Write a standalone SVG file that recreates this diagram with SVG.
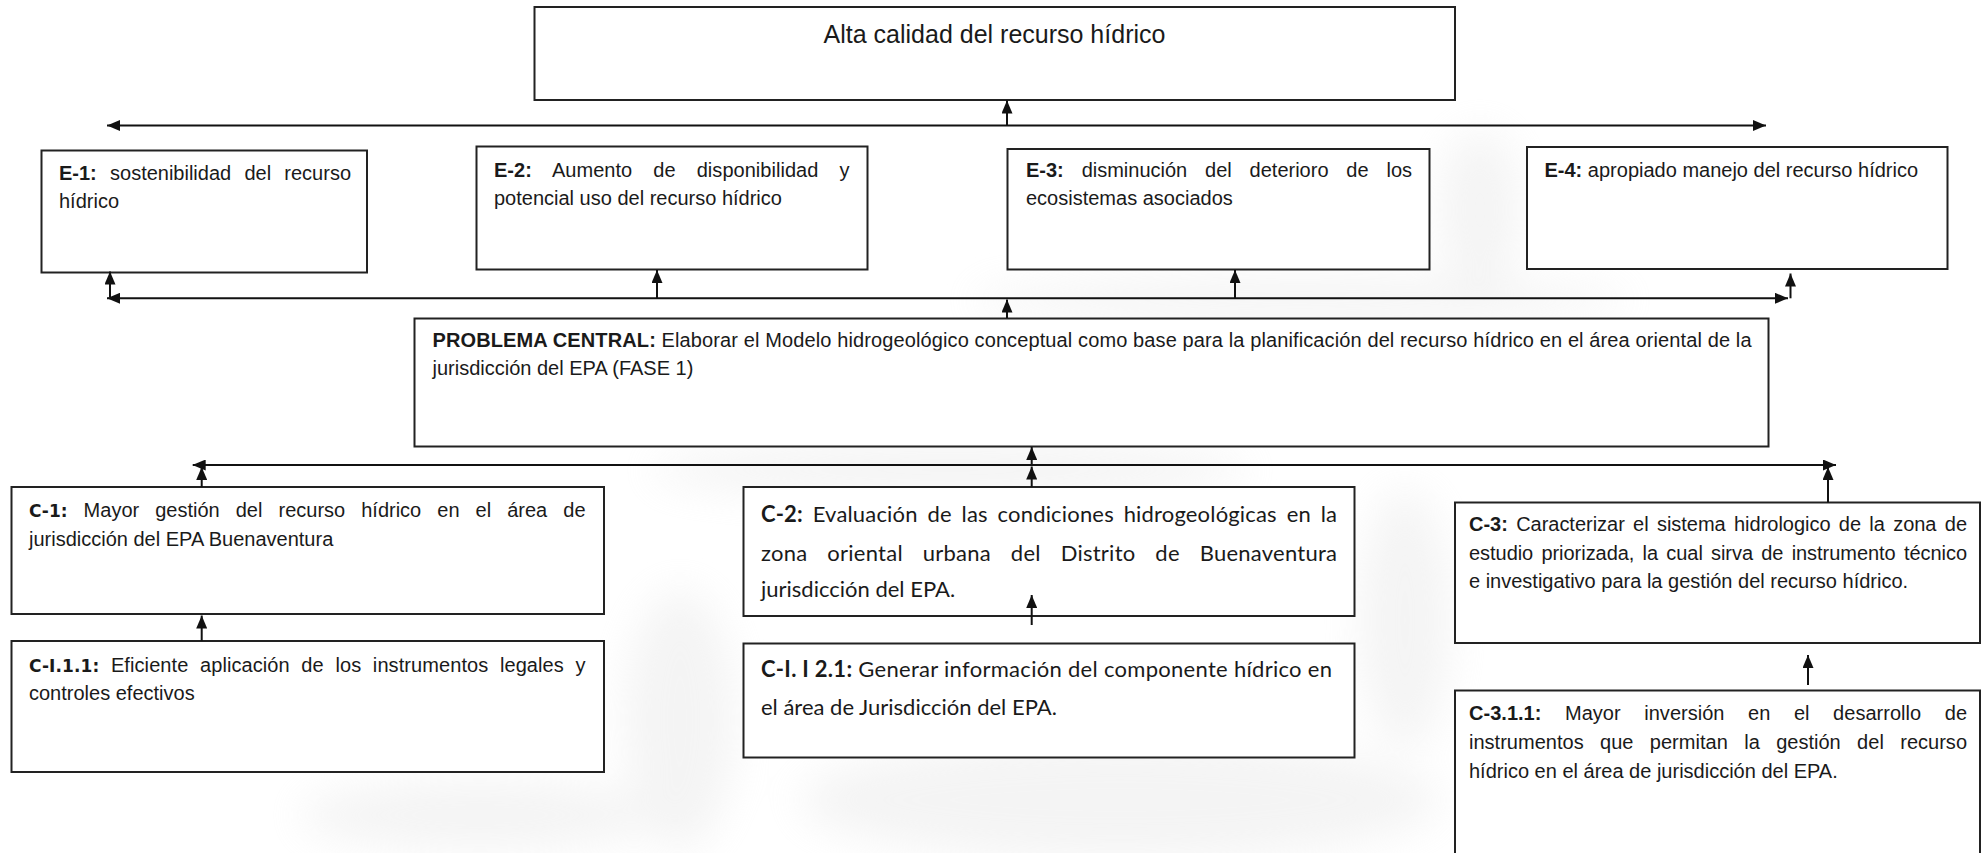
<svg xmlns="http://www.w3.org/2000/svg" width="1982" height="853" viewBox="0 0 1982 853">
<style>
.box{fill:#fff;stroke:#222;stroke-width:2}
.t{font-family:"Liberation Sans",Arial,sans-serif;font-size:20px;fill:#1a1a1a}
.b{font-weight:bold}
.cal{font-family:Lato,"Liberation Sans",sans-serif;font-size:22px;fill:#1a1a1a}
.tah{font-family:"DejaVu Sans",sans-serif;font-weight:bold;font-size:17px}
.conn path{stroke:#111;stroke-width:2;fill:none}
.m1{marker-end:url(#ah)}
.m2{marker-start:url(#ahs);marker-end:url(#ah)}
.wm ellipse{fill:#e4e4e4}
</style>
<defs>
<marker id="ah" markerUnits="userSpaceOnUse" markerWidth="13" markerHeight="11" refX="13" refY="5.5" orient="auto">
<path d="M0,0 L13,5.5 L0,11 z" fill="#111"/>
</marker>
<marker id="ahs" markerUnits="userSpaceOnUse" markerWidth="13" markerHeight="11" refX="13" refY="5.5" orient="auto-start-reverse">
<path d="M0,0 L13,5.5 L0,11 z" fill="#111"/>
</marker>
<filter id="blur" x="-50%" y="-50%" width="200%" height="200%">
<feGaussianBlur stdDeviation="20"/>
</filter>
</defs>
<rect width="1982" height="853" fill="#fff"/>

<g id="watermark" class="wm" filter="url(#blur)" opacity="0.4">
<ellipse cx="950" cy="470" rx="300" ry="28"/>
<ellipse cx="1300" cy="300" rx="330" ry="22"/>
<ellipse cx="1480" cy="210" rx="40" ry="80"/>
<ellipse cx="1120" cy="800" rx="320" ry="60"/>
<ellipse cx="680" cy="720" rx="55" ry="130"/>
<ellipse cx="1405" cy="620" rx="45" ry="130"/>
<ellipse cx="480" cy="815" rx="180" ry="35"/>
</g>

<g id="top">
<rect class="box" x="534.5" y="7" width="920.5" height="93"/>
<text class="t" x="994.5" y="43" style="font-size:25px" text-anchor="middle">Alta calidad del recurso hídrico</text>
</g>

<g id="e1">
<rect class="box" x="41.5" y="150.5" width="325.5" height="122"/>
<text class="t" x="59" y="180" textLength="292" lengthAdjust="spacing" style="word-spacing:7.7px"><tspan class="b">E-1:</tspan> sostenibilidad del recurso</text>
<text class="t" x="59" y="208">hídrico</text>
</g>

<g id="e2">
<rect class="box" x="476.5" y="146.5" width="391" height="123"/>
<text class="t" x="494" y="176.7" textLength="355.5" lengthAdjust="spacing" style="word-spacing:15.5px"><tspan class="b">E-2:</tspan> Aumento de disponibilidad y</text>
<text class="t" x="494" y="205">potencial uso del recurso hídrico</text>
</g>

<g id="e3">
<rect class="box" x="1007.5" y="149" width="422" height="120.5"/>
<text class="t" x="1026" y="176.7" textLength="386" lengthAdjust="spacing" style="word-spacing:12.3px"><tspan class="b">E-3:</tspan> disminución del deterioro de los</text>
<text class="t" x="1026" y="205">ecosistemas asociados</text>
</g>

<g id="e4">
<rect class="box" x="1527" y="147" width="420.5" height="122"/>
<text class="t" x="1544.5" y="176.7"><tspan class="b">E-4:</tspan> apropiado manejo del recurso hídrico</text>
</g>

<g id="problema">
<rect class="box" x="414.5" y="318.5" width="1354" height="128"/>
<text class="t" x="432.5" y="346.8" textLength="1319" lengthAdjust="spacing"><tspan class="b">PROBLEMA CENTRAL:</tspan> Elaborar el Modelo hidrogeológico conceptual como base para la planificación del recurso hídrico en el área oriental de la</text>
<text class="t" x="432.5" y="375.2">jurisdicción del EPA (FASE 1)</text>
</g>

<g id="c1">
<rect class="box" x="11.5" y="487" width="592.5" height="127"/>
<text class="t" x="29" y="516.7" textLength="556.5" lengthAdjust="spacing" style="word-spacing:10.5px"><tspan class="tah">C-1:</tspan> Mayor gestión del recurso hídrico en el área de</text>
<text class="t" x="29" y="545.5">jurisdicción del EPA Buenaventura</text>
</g>

<g id="ci11">
<rect class="box" x="11.5" y="641" width="592.5" height="131"/>
<text class="t" x="29" y="671.7" textLength="556.5" lengthAdjust="spacing" style="word-spacing:6px"><tspan class="tah">C-I.1.1:</tspan> Eficiente aplicación de los instrumentos legales y</text>
<text class="t" x="29" y="700">controles efectivos</text>
</g>

<g id="c2">
<rect class="box" x="743.5" y="487" width="611" height="129"/>
<text class="cal" x="761" y="522.3" textLength="576" lengthAdjust="spacing" style="word-spacing:4px"><tspan class="b">C-2:</tspan> Evaluación de las condiciones hidrogeológicas en la</text>
<text class="cal" x="761" y="561" textLength="576" lengthAdjust="spacing" style="word-spacing:14px">zona oriental urbana del Distrito de Buenaventura</text>
<text class="cal" x="761" y="597.3">jurisdicción del EPA.</text>
</g>

<g id="ci121">
<rect class="box" x="743.5" y="643.5" width="611" height="114"/>
<text class="cal" x="761" y="676.7" textLength="571" lengthAdjust="spacing"><tspan class="b">C-I. I 2.1:</tspan> Generar información del componente hídrico en</text>
<text class="cal" x="761" y="715">el área de Jurisdicción del EPA.</text>
</g>

<g id="c3">
<rect class="box" x="1455" y="502.5" width="525" height="140.5"/>
<text class="t" x="1469" y="531" textLength="498" lengthAdjust="spacing" style="word-spacing:2.8px"><tspan class="b">C-3:</tspan> Caracterizar el sistema hidrologico de la zona de</text>
<text class="t" x="1469" y="559.5" textLength="498" lengthAdjust="spacing" style="word-spacing:2.7px">estudio priorizada, la cual sirva de instrumento técnico</text>
<text class="t" x="1469" y="588">e investigativo para la gestión del recurso hídrico.</text>
</g>

<g id="c311">
<rect class="box" x="1455" y="690.5" width="525" height="200"/>
<text class="t" x="1469" y="720" textLength="498" lengthAdjust="spacing" style="word-spacing:18px"><tspan class="b">C-3.1.1:</tspan> Mayor inversión en el desarrollo de</text>
<text class="t" x="1469" y="748.5" textLength="498" lengthAdjust="spacing" style="word-spacing:10.8px">instrumentos que permitan la gestión del recurso</text>
<text class="t" x="1469" y="778">hídrico en el área de jurisdicción del EPA.</text>
</g>

<g id="connectors" class="conn">
<path class="m2" d="M107,125.5 H1766"/>
<path class="m1" d="M1007,126 V100.5"/>
<path class="m2" d="M107,298.3 H1788"/>
<path class="m1" d="M110,297 V271.5"/>
<path class="m1" d="M657,298 V270"/>
<path class="m1" d="M1235,298 V270"/>
<path class="m1" d="M1790.5,298.3 V273.5"/>
<path class="m1" d="M1007,318 V299.5"/>
<path class="m2" d="M192.7,465 H1836"/>
<path class="m1" d="M201.7,487 V467"/>
<path class="m1" d="M1031.7,465 V447"/>
<path class="m1" d="M1031.7,487 V466.5"/>
<path class="m1" d="M1828,502.5 V467"/>
<path class="m1" d="M201.7,641 V615.5"/>
<path class="m1" d="M1031.7,625 V595"/>
<path class="m1" d="M1808,685 V655"/>
</g>
</svg>
